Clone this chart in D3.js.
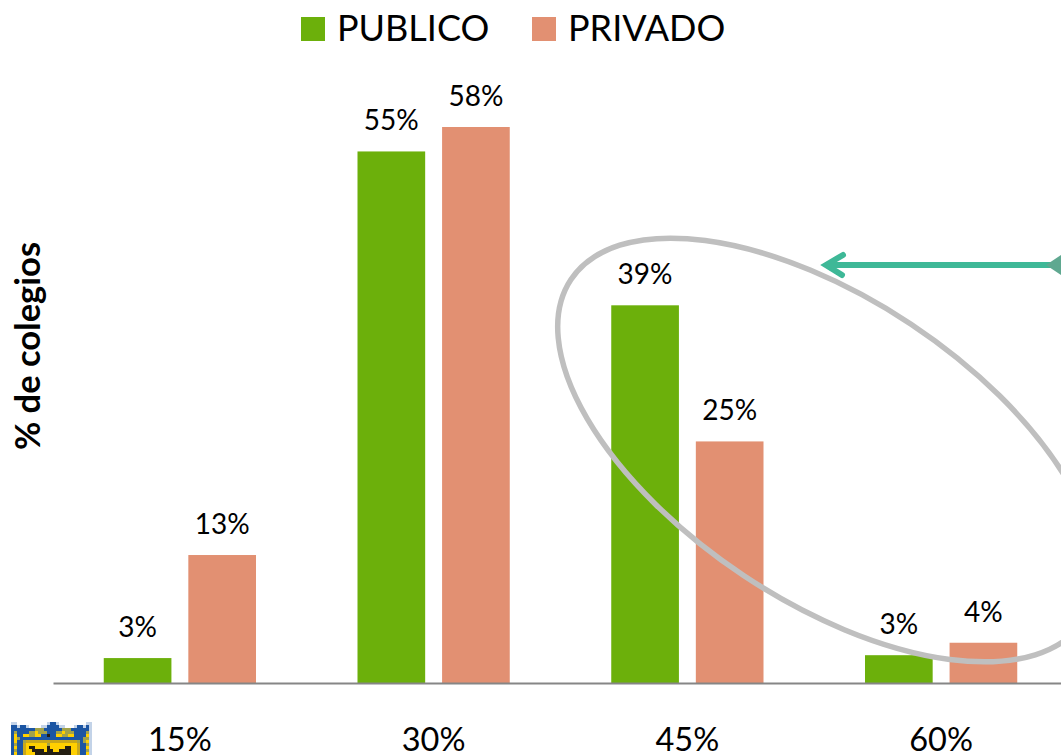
<!DOCTYPE html>
<html lang="en">
<head>
<meta charset="UTF-8">
<title>% de colegios</title>
<script src="https://cdnjs.cloudflare.com/ajax/libs/d3/7.8.5/d3.min.js"></script>
<style>
  html, body { margin: 0; background: #fff; overflow: hidden; }
  text { font-family: Lato, "Open Sans", sans-serif; fill: #000; }
</style>
</head>
<body>
<div id="chart"></div>
<script>
const categories = ["15%", "30%", "45%", "60%"];
const seriesNames = ["PUBLICO", "PRIVADO"];
const publico = [2.6, 55.45, 39.4, 2.9];
const privado = [13.35, 58, 25.2, 4.2];
const colors = ["#6cb00b", "#e29072"];

// low-res crest in the corner, one letter per 3px block
const crestRows = [
  "pp..........pbbp.........pp",
  "bbpbbp....ppbbbbpp...pbbpbp",
  "bbbbbbbbooobbbbbbooobbbbbbp",
  "bobbbbooyooobbbooyooobbbbop",
  "bybbyyooyybbdbbyyooyybbbbyp",
  "byobbbbbbbbbbbbbbbbbbbbboop",
  "bybbogggggggggggggggggoboyp",
  "bobbgyyyyyyyoyyyyyyyyygbbop",
  "bybbgyddyyyydyyyyyddyygbbyp",
  "bobbgyyddddyddyyddddyygbbop",
  "bybbgyyyddddddddddddyygbbyp"
];
const crestColors = { p: "#c3d3e8", b: "#1b55a3", o: "#a3a349", y: "#ffd000", g: "#c9a81a", d: "#241f12" };

const width = 1061, height = 755;
const baseline = 683;

const svg = d3.select("#chart").append("svg")
  .attr("width", width)
  .attr("height", height)
  .style("display", "block");

const x0 = d3.scaleBand().domain(categories).range([53, 1068]).paddingInner(0.4).paddingOuter(0.2);
const x1 = d3.scaleBand().domain(seriesNames).range([0, x0.bandwidth()]).paddingInner(0.2);
const y = d3.scaleLinear().domain([0, 58]).range([baseline, 127]);
const fmt = d => d3.format(".0f")(d) + "%";

// bars
const groups = svg.selectAll("g.group")
  .data(categories)
  .enter().append("g")
  .attr("class", "group")
  .attr("transform", d => `translate(${x0(d)},0)`);

seriesNames.forEach((name, s) => {
  const vals = s === 0 ? publico : privado;
  groups.append("rect")
    .attr("x", x1(name))
    .attr("y", (d, i) => y(vals[i]))
    .attr("width", x1.bandwidth())
    .attr("height", (d, i) => baseline - y(vals[i]))
    .attr("fill", colors[s]);
  groups.append("text")
    .attr("x", x1(name) + x1.bandwidth() / 2)
    .attr("y", (d, i) => y(vals[i]) - 21)
    .attr("text-anchor", "middle")
    .attr("font-size", 28)
    .text((d, i) => fmt(vals[i]));
});

// axis line and category labels
const xAxis = d3.axisBottom(x0).tickSize(0).tickPadding(45);
const axisG = svg.append("g").attr("transform", `translate(0,${baseline})`).call(xAxis);
axisG.select(".domain").attr("stroke", "#868686").attr("stroke-width", 2);
axisG.selectAll("text").attr("font-size", 32.5).style("font-family", "Lato");

// y title
svg.append("text")
  .attr("transform", "translate(40,346) rotate(-90)")
  .attr("text-anchor", "middle")
  .attr("font-size", 34.5)
  .attr("font-weight", 700)
  .text("% de colegios");

// legend
const legendX = [301, 532];
seriesNames.forEach((name, s) => {
  svg.append("rect")
    .attr("x", legendX[s]).attr("y", 17)
    .attr("width", 24).attr("height", 24)
    .attr("fill", colors[s]);
  svg.append("text")
    .attr("x", legendX[s] + 36).attr("y", 41)
    .attr("font-size", 36)
    .text(name);
});

// ellipse annotation
svg.append("ellipse")
  .attr("transform", "translate(827.5,450) rotate(33.6)")
  .attr("rx", 308).attr("ry", 151)
  .attr("fill", "none")
  .attr("stroke", "#bfbfbf")
  .attr("stroke-width", 5.5);

// arrow
svg.append("path")
  .attr("d", "M828 265H1061M843 255L826 265L842 275")
  .attr("fill", "none")
  .attr("stroke", "#3eb897")
  .attr("stroke-width", 6)
  .attr("stroke-linecap", "round")
  .attr("stroke-linejoin", "miter");
svg.append("path")
  .attr("d", "M1061 255L1046 265L1061 275Z")
  .attr("fill", "#5fa890");

// crest
const crestCells = crestRows.flatMap((row, r) => row.split("").map((c, col) => ({ c, r, col })))
  .filter(d => crestColors[d.c]);
svg.append("g").selectAll("rect")
  .data(crestCells)
  .enter().append("rect")
  .attr("x", d => 11 + d.col * 3)
  .attr("y", d => 722 + d.r * 3)
  .attr("width", 3)
  .attr("height", 3)
  .attr("fill", d => crestColors[d.c]);
</script>
</body>
</html>
